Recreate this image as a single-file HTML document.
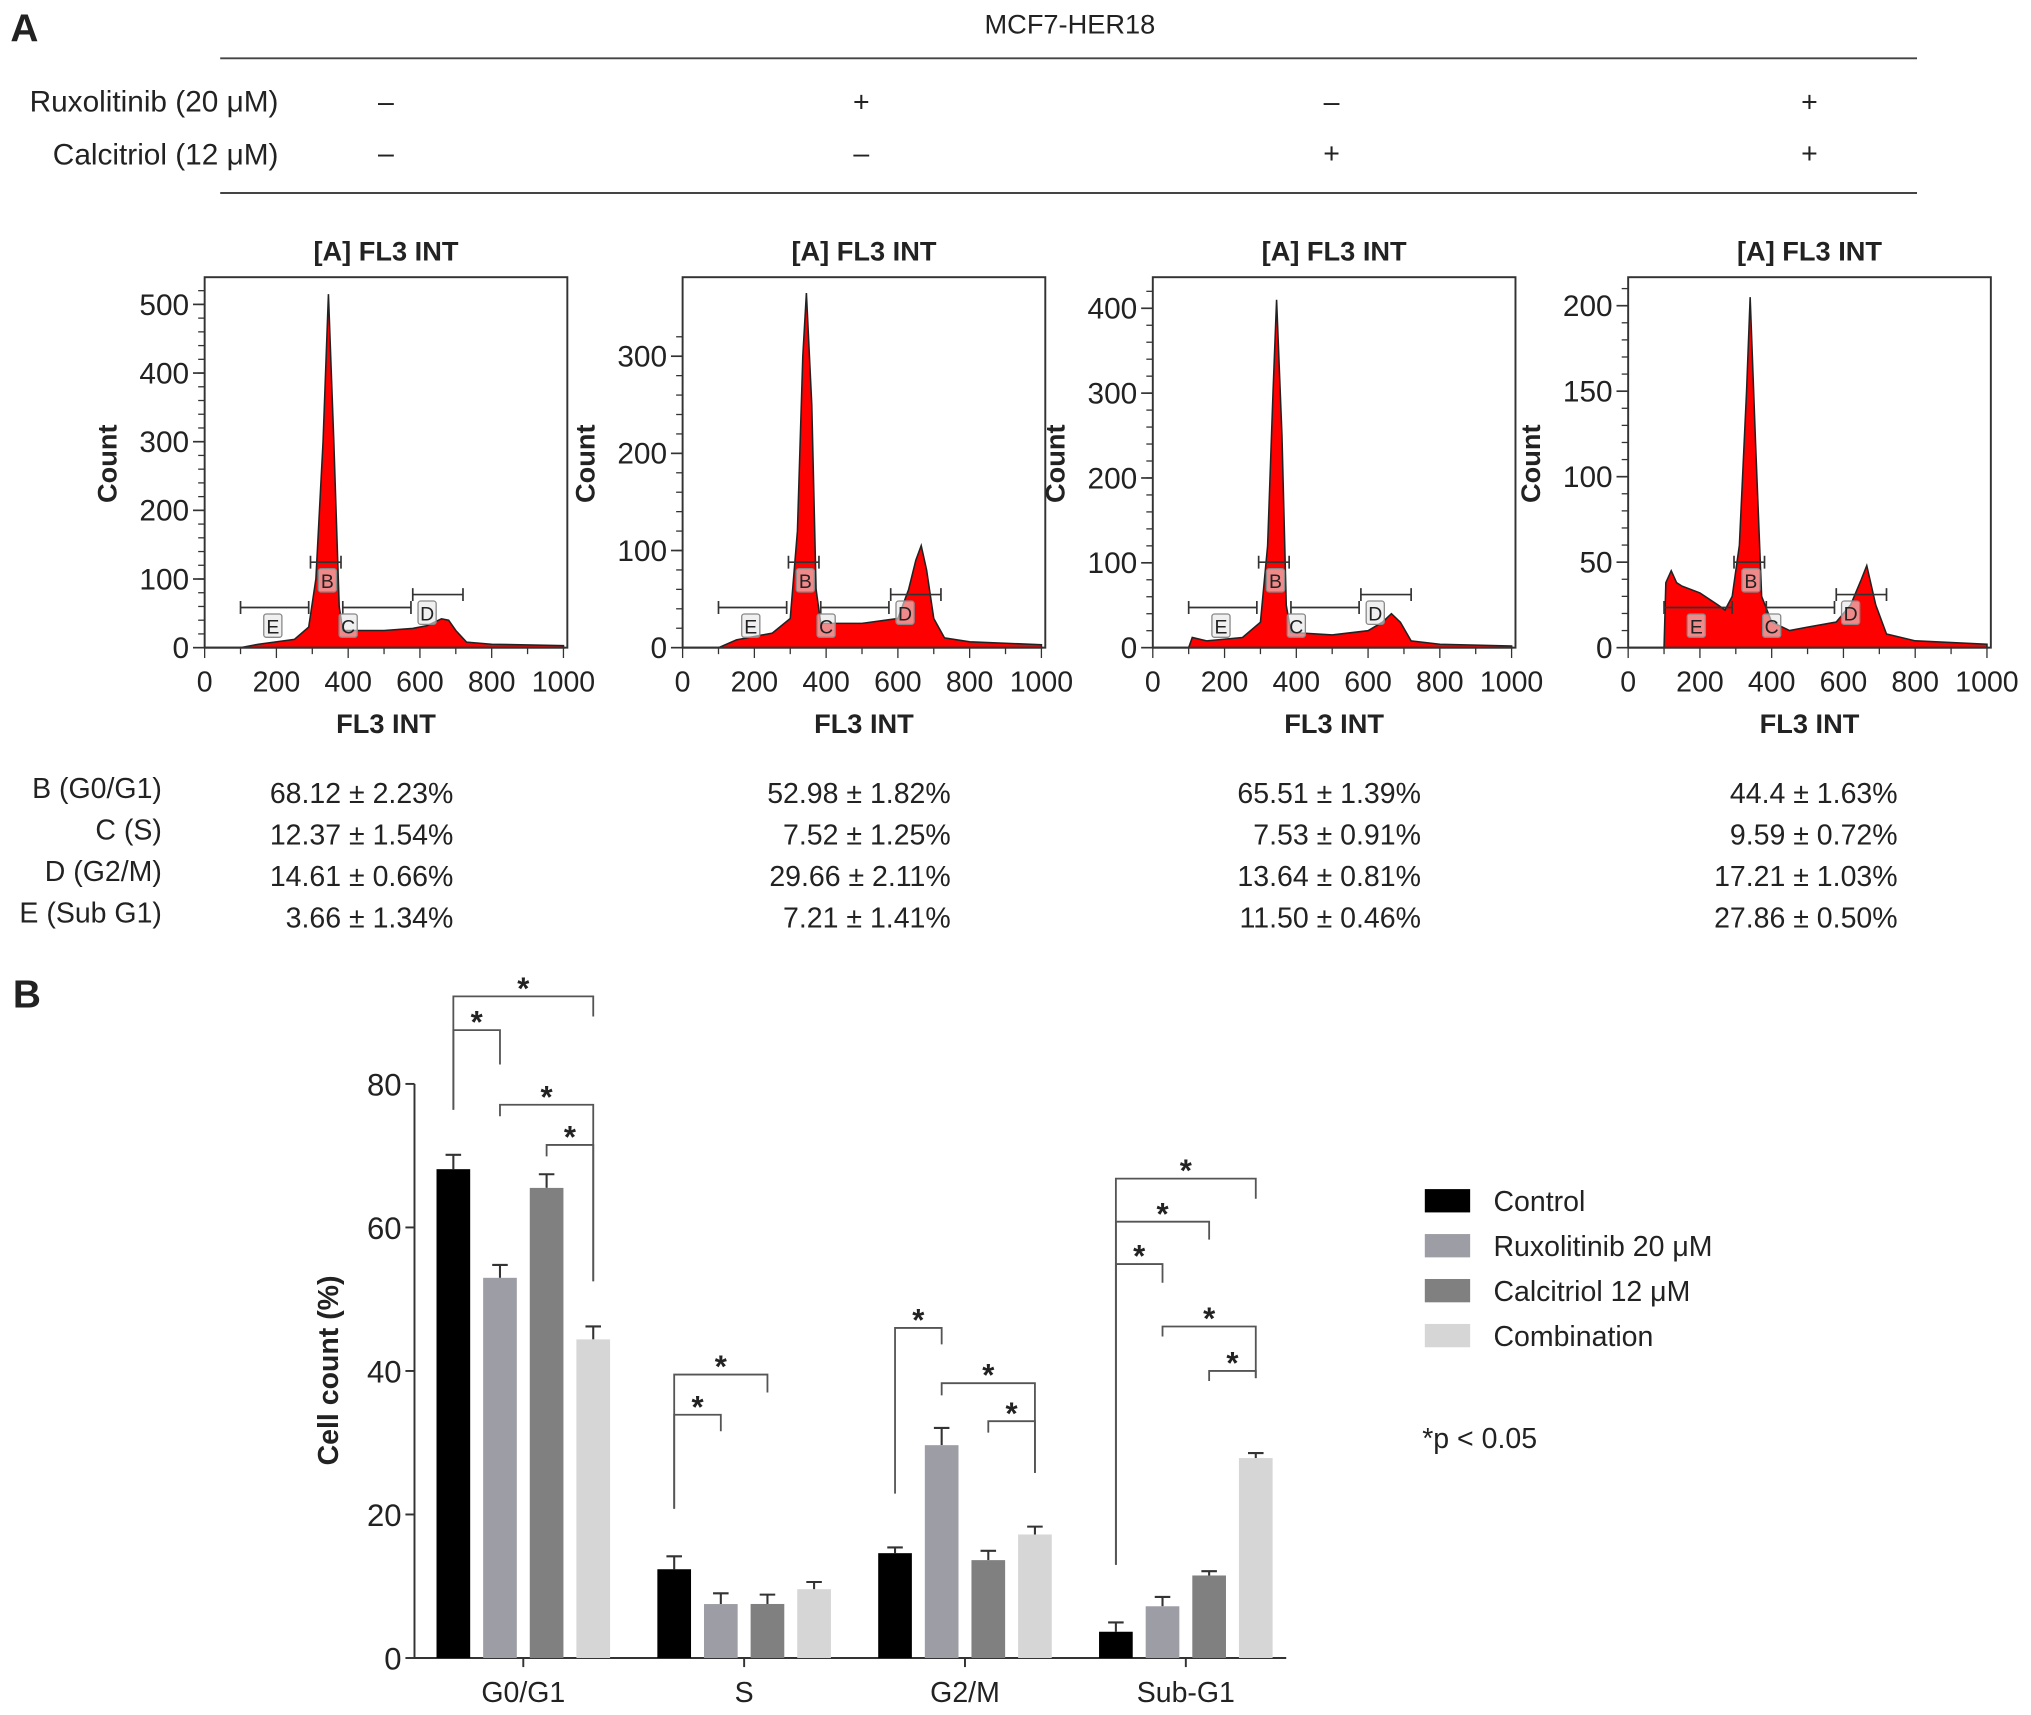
<!DOCTYPE html>
<html><head><meta charset="utf-8"><style>
html,body{margin:0;padding:0;background:#fff;}
svg{display:block;}
text{font-family:"Liberation Sans Narrow","Liberation Sans",sans-serif;fill:#222;}
.b{font-family:"Liberation Sans",sans-serif;font-weight:bold;}
</style></head><body>
<svg id="fig" width="2031" height="1715" viewBox="0 0 1568 1324" preserveAspectRatio="none" xmlns="http://www.w3.org/2000/svg">
<g id="hdr">
<text x="8" y="32" font-size="30" class="b">A</text>
<text x="826" y="26" font-size="21" text-anchor="middle">MCF7-HER18</text>
<line x1="170" y1="45" x2="1480" y2="45" stroke="#444" stroke-width="1.5"/>
<line x1="170" y1="149" x2="1480" y2="149" stroke="#444" stroke-width="1.5"/>
<text x="215" y="86" font-size="23" text-anchor="end">Ruxolitinib (20 μM)</text>
<text x="215" y="127" font-size="23" text-anchor="end">Calcitriol (12 μM)</text>
</g>
<g id="hists"></g>
<g id="table"></g>
<g id="bars"></g>
</svg>
<script>
const NS='http://www.w3.org/2000/svg';
function mk(parent,tag,attrs,txt){const e=document.createElementNS(NS,tag);for(const k in attrs)e.setAttribute(k,attrs[k]);if(txt!==undefined)e.textContent=txt;parent.appendChild(e);return e;}

// ---------- header signs ----------
const ruxSigns=['–','+','–','+'];
const calSigns=['–','–','+','+'];
const colX=[298,665,1028,1397];
const hdrG=document.getElementById('hdr');
for(let i=0;i<4;i++){
 let t=mk(hdrG,'text',{x:colX[i],y:86,'font-size':22,'text-anchor':'middle'},ruxSigns[i]);
 
 
 t=mk(hdrG,'text',{x:colX[i],y:126,'font-size':22,'text-anchor':'middle'},calSigns[i]);
 
 
}

// ---------- histogram data ----------
const hx1=[100,150,250,290,310,330,345,360,375,385,500,580,620,660,680,700,730,800,1000];
const hy1=[0,5,12,30,100,300,515,300,60,25,25,28,32,42,40,25,8,5,3];
const hx2=[100,150,250,300,320,335,345,360,372,385,500,600,630,650,665,680,700,730,800,1000];
const hy2=[0,8,15,30,120,300,365,250,60,25,25,30,60,90,105,80,30,10,6,3];
const hx3=[100,110,150,250,300,320,335,345,360,372,385,500,600,640,665,690,720,800,1000];
const hy3=[0,12,8,12,30,120,300,410,250,50,18,15,20,30,40,30,8,4,2];
const hx4=[100,105,120,135,150,200,250,270,290,310,330,340,355,372,400,450,500,580,620,650,665,690,720,800,1000];
const hy4=[0,38,45,38,36,32,25,22,30,60,150,205,120,30,15,10,12,15,25,40,48,25,8,4,2];
const hYMax=[500,300,400,200];
const hYTicks=[[0,100,200,300,400,500],[0,100,200,300],[0,100,200,300,400],[0,50,100,150,200]];
const hYMinor=[20,20,20,10];
const hXTicks=[0,200,400,600,800,1000];
const hYPx=[0.53,0.75,0.655,1.32];
const panelLeft=[158,527,890,1257];
const HX=[hx1,hx2,hx3,hx4], HY=[hy1,hy2,hy3,hy4];
const gates=[['E',100,290,469,190],['B',295,380,434,342],['C',385,575,469,400],['D',580,720,459,620]];

const hg=document.getElementById('hists');
for(let p=0;p<4;p++){
 const L=panelLeft[p], W=278, T=214, B=500;
 const sx=v=>L+v*0.277, sy=v=>B-v*hYPx[p];
 const g=mk(hg,'g',{});
 
 
 let t=mk(g,'text',{x:L+140,y:201,'font-size':21,'text-anchor':'middle',class:'b'},'[A] FL3 INT');
 
 
 let r=mk(g,'rect',{x:L,y:T,width:W+2,height:B-T,fill:'none',stroke:'#333','stroke-width':1.5});
 
 
 let d='M'+sx(HX[p][0])+','+B;
 for(let i=0;i<HX[p].length;i++) d+=' L'+sx(HX[p][i])+','+sy(HY[p][i]);
 d+=' L'+sx(HX[p][HX[p].length-1])+','+B+' Z';
 let pa=mk(g,'path',{d:d,fill:'#f00',stroke:'#222','stroke-width':1.2});
 
 
 for(let v=0;v<=hYMax[p]*1.07;v+=hYMinor[p]){
  const ln=mk(g,'line',{x1:L-5,x2:L,y1:sy(v),y2:sy(v),stroke:'#333','stroke-width':1});
  
  
 }
 hYTicks[p].forEach(v=>{
  mk(g,'line',{x1:L-9,x2:L,y1:sy(v),y2:sy(v),stroke:'#333','stroke-width':1.3});
  const tt=mk(g,'text',{x:L-12,y:sy(v)+8,'font-size':23,'text-anchor':'end'},v);
  
  
 });
 mk(g,'line',{x1:L,x2:L+W,y1:B,y2:B,stroke:'#333','stroke-width':1.5});
 for(let v=0;v<=1000;v+=100){mk(g,'line',{x1:sx(v),x2:sx(v),y1:B,y2:B+(v%200?5:8),stroke:'#333','stroke-width':1});}
 hXTicks.forEach(v=>{
  const tt=mk(g,'text',{x:sx(v),y:B+34,'font-size':22,'text-anchor':'middle'},v);
  
  
 });
 t=mk(g,'text',{x:L+140,y:566,'font-size':21,'text-anchor':'middle',class:'b'},'FL3 INT');
 
 
 t=mk(g,'text',{x:0,y:0,'font-size':21,'text-anchor':'middle',class:'b',transform:'translate('+(L-68)+',358) rotate(-90)'},'Count');
 
 
 gates.forEach(gt=>{
  const x1=sx(gt[1]),x2=sx(gt[2]),y=gt[3];
  mk(g,'path',{d:`M${x1},${y-5}V${y+5}M${x1},${y}H${x2}M${x2},${y-5}V${y+5}`,stroke:'#333','stroke-width':1.3,fill:'none'});
  const lx=sx(gt[4]),ly=y+14;
  mk(g,'rect',{x:lx-7,y:ly-9,width:14,height:18,fill:'rgba(230,230,230,0.6)',stroke:'#888','stroke-width':1,rx:2});
  const tt=mk(g,'text',{x:lx,y:ly+6,'font-size':15,'text-anchor':'middle'},gt[0]);
  
  
 });
}

// ---------- table ----------
const rowLabels=['B (G0/G1)','C (S)','D (G2/M)','E (Sub G1)'];
const tableVals=[
 ['68.12 ± 2.23%','52.98 ± 1.82%','65.51 ± 1.39%','44.4 ± 1.63%'],
 ['12.37 ± 1.54%','7.52 ± 1.25%','7.53 ± 0.91%','9.59 ± 0.72%'],
 ['14.61 ± 0.66%','29.66 ± 2.11%','13.64 ± 0.81%','17.21 ± 1.03%'],
 ['3.66 ± 1.34%','7.21 ± 1.41%','11.50 ± 0.46%','27.86 ± 0.50%']];
const tbl=document.getElementById('table');
const colEnd=[350,734,1097,1465];
for(let r=0;r<4;r++){
 let t=mk(tbl,'text',{x:125,y:616+r*32,'font-size':22,'text-anchor':'end'},rowLabels[r]);
 
 
 for(let c=0;c<4;c++){
  t=mk(tbl,'text',{x:colEnd[c],y:620+r*32,'font-size':22,'text-anchor':'end'},tableVals[r][c]);
  
  
 }
}

// ---------- bar chart ----------
const categories=['G0/G1','S','G2/M','Sub-G1'];
const seriesNames=['Control','Ruxolitinib 20 μM','Calcitriol 12 μM','Combination'];
const controlVals=[68.12,12.37,14.61,3.66];
const ruxVals=[52.98,7.52,29.66,7.21];
const calVals=[65.51,7.53,13.64,11.50];
const comboVals=[44.4,9.59,17.21,27.86];
const controlErr=[2.0,1.8,0.8,1.3];
const ruxErr=[1.8,1.5,2.4,1.3];
const calErr=[1.9,1.3,1.3,0.6];
const comboErr=[1.8,1.0,1.1,0.7];
const yTicks=[0,20,40,60,80];
const brackets=[
 [0,0,1,87.5,76.4,82.7],[0,0,3,92.2,76.4,89.4],[0,1,3,77.1,75.5,52.5],[0,2,3,71.5,69.9,52.5],
 [1,0,1,33.9,20.8,31.6],[1,0,2,39.5,20.8,37.0],
 [2,0,1,46.0,22.9,43.7],[2,1,3,38.3,36.6,25.8],[2,2,3,33.0,31.4,25.8],
 [3,0,3,66.8,13.0,64.0],[3,0,2,60.8,13.0,58.3],[3,0,1,54.9,13.0,52.3],[3,1,3,46.2,44.8,39.0],[3,2,3,40.0,38.6,39.0]];
const colors=['#000000','#9d9da5','#808080','#d6d6d6'];
const VALS=[controlVals,ruxVals,calVals,comboVals], ERRS=[controlErr,ruxErr,calErr,comboErr];
const bg=document.getElementById('bars');
const X0=320,X1=993,Y0=1280,ppu=5.54;
const yS=v=>Y0-v*ppu;
const catC=i=>404+i*170.5;
const barC=(c,s)=>catC(c)-54+s*36;
let tb=mk(bg,'text',{x:10,y:778,'font-size':30,class:'b'},'B');


mk(bg,'line',{x1:X0,x2:X0,y1:yS(0),y2:yS(80),stroke:'#333','stroke-width':1.5});
mk(bg,'line',{x1:X0,x2:X1,y1:Y0,y2:Y0,stroke:'#333','stroke-width':1.5});
yTicks.forEach(v=>{
 mk(bg,'line',{x1:X0-7,x2:X0,y1:yS(v),y2:yS(v),stroke:'#333','stroke-width':1.5});
 const tt=mk(bg,'text',{x:X0-10,y:yS(v)+9,'font-size':24,'text-anchor':'end'},v);
 
 
});
tb=mk(bg,'text',{x:0,y:0,'font-size':22,'text-anchor':'middle',class:'b',transform:'translate(261,1058) rotate(-90)'},'Cell count (%)');


categories.forEach((c,i)=>{
 mk(bg,'line',{x1:catC(i),x2:catC(i),y1:Y0,y2:Y0+7,stroke:'#333','stroke-width':1.5});
 const tt=mk(bg,'text',{x:catC(i),y:1314,'font-size':22,'text-anchor':'middle'},c);
 
 
});
for(let s=0;s<4;s++)for(let c=0;c<4;c++){
 const v=VALS[s][c],e=ERRS[s][c],x=barC(c,s);
 const eb=mk(bg,'path',{d:`M${x},${yS(v)}V${yS(v+e)}M${x-6},${yS(v+e)}H${x+6}`,stroke:'#333','stroke-width':1.6,fill:'none'});
 
 
 const r=mk(bg,'rect',{x:x-13,y:yS(v),width:26,height:v*ppu,fill:colors[s]});
 
 
}
brackets.forEach(b=>{
 const xa=barC(b[0],b[1]),xb=barC(b[0],b[2]);
 const p=mk(bg,'path',{d:`M${xa},${yS(b[4])}V${yS(b[3])}H${xb}V${yS(b[5])}`,stroke:'#555','stroke-width':1.4,fill:'none'});
 
 
 const st=mk(bg,'text',{x:(xa+xb)/2,y:yS(b[3])+2,'font-size':24,'text-anchor':'middle',fill:'#444',class:'b'},'*');
 
 
});
seriesNames.forEach((n,i)=>{
 const y=927+i*34.7;
 const r=mk(bg,'rect',{x:1100,y:y-9,width:35,height:18,fill:colors[i]});
 
 
 const tt=mk(bg,'text',{x:1153,y:y+8,'font-size':22},n);
 
 
});
tb=mk(bg,'text',{x:1098,y:1118,'font-size':22},'*p < 0.05');


</script>
</body></html>
